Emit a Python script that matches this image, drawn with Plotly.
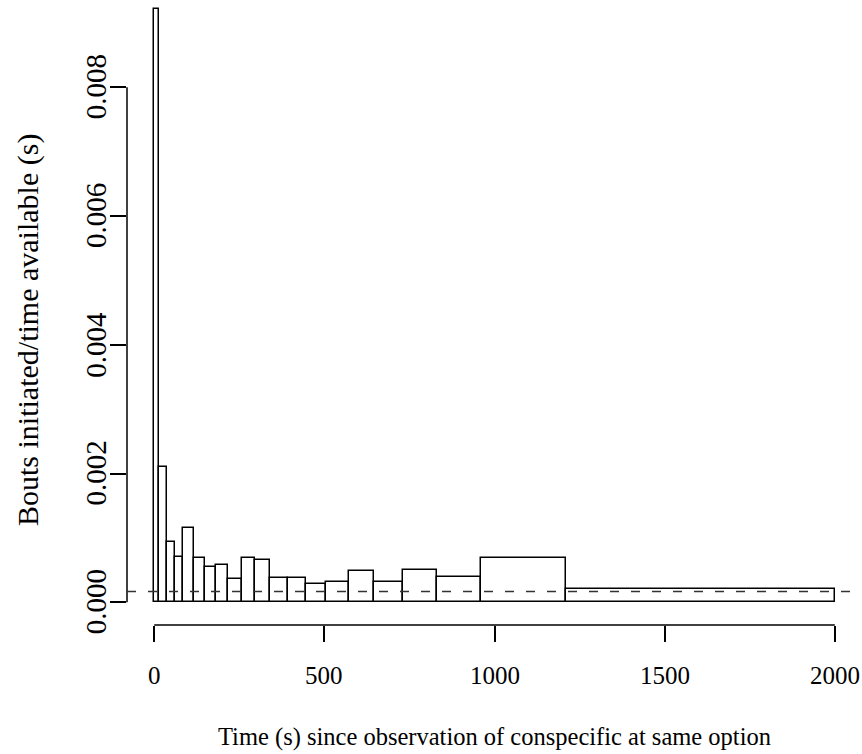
import plotly.graph_objects as go

# Bin breaks (s) and bar heights (bouts initiated / time available)
breaks = [0, 14, 37, 62, 86, 118, 148, 182, 217, 257, 297, 341, 393, 446,
          505, 571, 645, 730, 831, 960, 1211, 2000]
heights = [0.009216, 0.002097, 0.000932, 0.000699, 0.001159, 0.000683,
           0.000548, 0.000584, 0.000357, 0.000693, 0.000657, 0.000377,
           0.000377, 0.000289, 0.000308, 0.000486, 0.000311, 0.000497,
           0.000398, 0.000688, 0.000203]
baseline_rate = 0.000168

x_ticks = [0, 500, 1000, 1500, 2000]
x_ticktext = ["0", "500", "1000", "1500", "2000"]
y_ticks = [0, 0.002, 0.004, 0.006, 0.008]
y_ticktext = ["0.000", "0.002", "0.004", "0.006", "0.008"]

mids = [(a + b) / 2 for a, b in zip(breaks[:-1], breaks[1:])]
widths = [b - a for a, b in zip(breaks[:-1], breaks[1:])]

FONT = "Liberation Serif"
W, H = 862, 754
ml, mr, mt, mb = 127, 0, 0, 129
plot_h = H - mt - mb
plot_w = W - ml - mr

fig = go.Figure()
fig.add_trace(go.Bar(
    x=mids, y=heights, width=widths, base=0,
    marker=dict(color="white", line=dict(color="black", width=1.5)),
    hoverinfo="skip", showlegend=False,
))

fig.update_layout(
    width=W, height=H,
    margin=dict(l=ml, r=mr, t=mt, b=mb, pad=0),
    plot_bgcolor="white", paper_bgcolor="white",
    font=dict(family=FONT, size=25, color="black"),
    bargap=0,
    xaxis=dict(range=[-80, 2080], tickvals=x_ticks,
               ticktext=["" for _ in x_ticks], ticks="outside",
               ticklen=16, tickwidth=1.5, tickcolor="black",
               showline=False, showgrid=False, zeroline=False),
    yaxis=dict(range=[-0.000353, 0.009356], tickvals=y_ticks,
               ticktext=["" for _ in y_ticks], ticks="outside",
               ticklen=16, tickwidth=1.5, tickcolor="black",
               showline=False, showgrid=False, zeroline=False),
)

# x tick labels
for v, t in zip(x_ticks, x_ticktext):
    fig.add_annotation(text=t, xref="x", yref="paper", x=v,
                       y=-(675 - plot_h) / plot_h,
                       xanchor="center", yanchor="middle", showarrow=False,
                       font=dict(family=FONT, size=25))

# y tick labels (rotated, parallel to the axis)
for v, t in zip(y_ticks, y_ticktext):
    fig.add_annotation(text=t, xref="paper", yref="y", x=(96 - ml) / plot_w, y=v,
                       textangle=-90, xanchor="center", yanchor="middle",
                       showarrow=False, font=dict(family=FONT, size=29))

# axis lines spanning first to last tick (base-R style)
fig.add_shape(type="line", xref="x", yref="paper", x0=x_ticks[0], x1=x_ticks[-1],
              y0=0, y1=0, line=dict(color="black", width=1.5))
fig.add_shape(type="line", xref="paper", yref="y", x0=0, x1=0,
              y0=y_ticks[0], y1=y_ticks[-1], line=dict(color="black", width=1.5))
# dashed reference line
fig.add_shape(type="line", xref="paper", yref="y", x0=0, x1=1,
              y0=baseline_rate, y1=baseline_rate,
              line=dict(color="#333333", width=1.6, dash="9px,12px"))

fig.add_annotation(text="Time (s) since observation of conspecific at same option",
                   xref="paper", yref="paper", x=0.5,
                   y=-(737 - plot_h) / plot_h,
                   xanchor="center", yanchor="middle", showarrow=False,
                   font=dict(family=FONT, size=24.5))
fig.add_annotation(text="Bouts initiated/time available (s)",
                   xref="paper", yref="paper", x=(28 - ml) / plot_w,
                   y=(plot_h - 330) / plot_h, textangle=-90,
                   xanchor="center", yanchor="middle", showarrow=False,
                   font=dict(family=FONT, size=30))

# remove the browser's default 8px page margin so the figure fills the window
fig.write_html("out.html",
               config={"displayModeBar": False},
               post_script="document.body.style.margin='0';"
                           "document.body.style.overflow='hidden';")
